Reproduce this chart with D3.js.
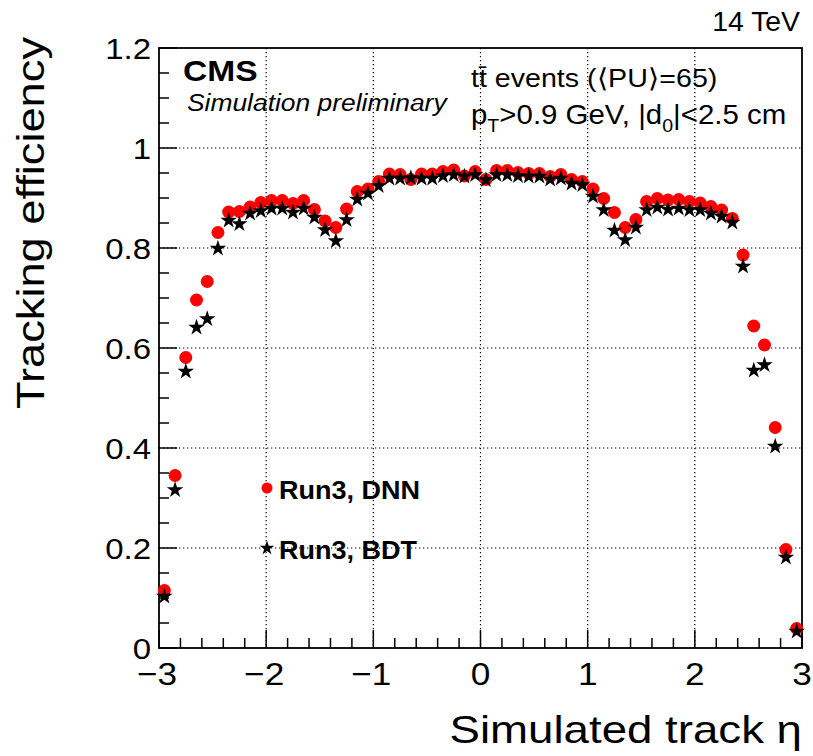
<!DOCTYPE html>
<html><head><meta charset="utf-8">
<script src="https://cdn.jsdelivr.net/npm/d3@7"></script>
<style>body{margin:0;background:#fff}svg{display:block}text{font-family:"Liberation Sans",Arial,sans-serif}</style>
</head><body>
<svg id="c" width="813" height="756"></svg>
<script>
const eta = [-2.95,-2.85,-2.75,-2.65,-2.55,-2.45,-2.35,-2.25,-2.15,-2.05,-1.95,-1.85,-1.75,-1.65,-1.55,-1.45,-1.35,-1.25,-1.15,-1.05,-0.95,-0.85,-0.75,-0.65,-0.55,-0.45,-0.35,-0.25,-0.15,-0.05,
0.05,0.15,0.25,0.35,0.45,0.55,0.65,0.75,0.85,0.95,1.05,1.15,1.25,1.35,1.45,1.55,1.65,1.75,1.85,1.95,2.05,2.15,2.25,2.35,2.45,2.55,2.65,2.75,2.85,2.95];
const dnn = [0.115,0.345,0.581,0.696,0.733,0.831,0.872,0.873,0.882,0.891,0.895,0.895,0.889,0.895,0.877,0.854,0.841,0.878,0.913,0.918,0.933,0.948,0.947,0.937,0.948,0.948,0.953,0.956,0.944,0.953,
0.937,0.955,0.955,0.951,0.949,0.949,0.943,0.947,0.937,0.933,0.918,0.899,0.871,0.841,0.857,0.893,0.899,0.896,0.897,0.893,0.890,0.883,0.876,0.859,0.786,0.644,0.606,0.441,0.197,0.039];
const bdt = [0.103,0.316,0.553,0.641,0.658,0.799,0.855,0.848,0.869,0.874,0.879,0.879,0.871,0.879,0.861,0.836,0.814,0.856,0.897,0.909,0.924,0.939,0.939,0.940,0.939,0.939,0.944,0.946,0.943,0.946,
0.936,0.946,0.946,0.944,0.943,0.943,0.937,0.939,0.929,0.926,0.903,0.876,0.835,0.816,0.841,0.876,0.881,0.877,0.879,0.876,0.876,0.869,0.863,0.851,0.763,0.555,0.566,0.403,0.181,0.033];
const xTicks = [-3,-2,-1,0,1,2,3];
const yTicks = [0,0.2,0.4,0.6,0.8,1,1.2];
const yTickLabels = ["0","0.2","0.4","0.6","0.8","1","1.2"];
const legendLabels = ["Run3, DNN","Run3, BDT"];

const svg = d3.select("#c");
const L=159, R=802, T=48, B=648;
const x = d3.scaleLinear().domain([-3,3]).range([L,R]);
const y = d3.scaleLinear().domain([0,1.2]).range([B,T]);
const SX = 1.1; // horizontal stretch of the reference's glyphs

function txt(px, py, fs, anchor, opts={}) {
  const gg = svg.append("g").attr("transform", `translate(${px},${py}) ${opts.rot?`rotate(${opts.rot})`:""} scale(${opts.sx||SX},1)`);
  const t = gg.append("text").attr("font-size", fs).attr("text-anchor", anchor);
  if (opts.bold) t.attr("font-weight","bold");
  if (opts.italic) t.attr("font-style","italic");
  return t;
}

// grid
const g = svg.append("g");
xTicks.filter(v=>v>-3&&v<3).forEach(v=>{
  g.append("line").attr("x1",x(v)).attr("x2",x(v)).attr("y1",T).attr("y2",B)
   .attr("stroke","#000").attr("stroke-width",1.2).attr("stroke-dasharray","1.3,2.7");
});
yTicks.filter(v=>v>0&&v<1.2).forEach(v=>{
  g.append("line").attr("x1",L).attr("x2",R).attr("y1",y(v)).attr("y2",y(v))
   .attr("stroke","#000").attr("stroke-width",1.2).attr("stroke-dasharray","1.3,2.7");
});

// ticks (inside, ROOT style)
for(let i=0;i<=30;i++){
  const v=-3+i*0.2, major=(i%5===0);
  svg.append("line").attr("x1",x(v)).attr("x2",x(v)).attr("y1",B).attr("y2",B-(major?18:10)).attr("stroke","#000").attr("stroke-width",1.5);
}
for(let i=0;i<=24;i++){
  const v=i*0.05, major=(i%4===0);
  svg.append("line").attr("x1",L).attr("x2",L+(major?18:10)).attr("y1",y(v)).attr("y2",y(v)).attr("stroke","#000").attr("stroke-width",1.5);
}
// frame
svg.append("rect").attr("x",L).attr("y",T).attr("width",R-L).attr("height",B-T).attr("fill","none").attr("stroke","#000").attr("stroke-width",1.8);

// tick labels
xTicks.forEach(v=>{
  txt(x(v)+(v<0?-2:0), 685, 32, "middle").text(v<0?"\u2212"+Math.abs(v):String(v));
});
yTicks.forEach((v,i)=>{
  txt(151, y(v)+11, 30, "end").text(yTickLabels[i]);
});

// axis titles
txt(802, 743, 39, "end", {sx:1.17}).text("Simulated track \u03b7");
txt(44, 37, 39, "end", {rot:-90, sx:1.16}).text("Tracking efficiency");

// texts
txt(800, 31, 27, "end", {sx:1.05}).text("14 TeV");
txt(183, 81, 30, "start", {bold:true, sx:1.12}).text("CMS");
txt(187, 111, 24, "start", {italic:true, sx:1.1}).text("Simulation preliminary");
txt(471, 87, 26, "start", {sx:1.1}).text("t\u0074\u0304 events (\u27e8PU\u27e9=65)");
const t2 = txt(471, 124, 27, "start", {sx:1.09});
t2.append("tspan").text("p");
t2.append("tspan").attr("font-size",18).attr("dy",8).text("T");
t2.append("tspan").attr("dy",-8).text(">0.9 GeV, |d");
t2.append("tspan").attr("font-size",18).attr("dy",8).text("0");
t2.append("tspan").attr("dy",-8).text("|<2.5 cm");

// markers
const star = d3.symbol().type(d3.symbolStar).size(85);
svg.append("g").selectAll("circle").data(eta).join("circle")
  .attr("cx",(d)=>x(d)).attr("cy",(d,i)=>y(dnn[i])).attr("r",6.5).attr("fill","#ff0000");
svg.append("g").selectAll("path").data(eta).join("path")
  .attr("d",star).attr("transform",(d,i)=>`translate(${x(d)},${y(bdt[i])})`).attr("fill","#000");

// legend
svg.append("circle").attr("cx",267).attr("cy",488).attr("r",5.5).attr("fill","#ff0000");
txt(279, 499, 25, "start", {bold:true, sx:1.08}).text(legendLabels[0]);
svg.append("path").attr("d",d3.symbol().type(d3.symbolStar).size(65)).attr("transform","translate(267,548)").attr("fill","#000");
txt(279, 559, 25, "start", {bold:true, sx:1.08}).text(legendLabels[1]);
</script>
</body></html>
